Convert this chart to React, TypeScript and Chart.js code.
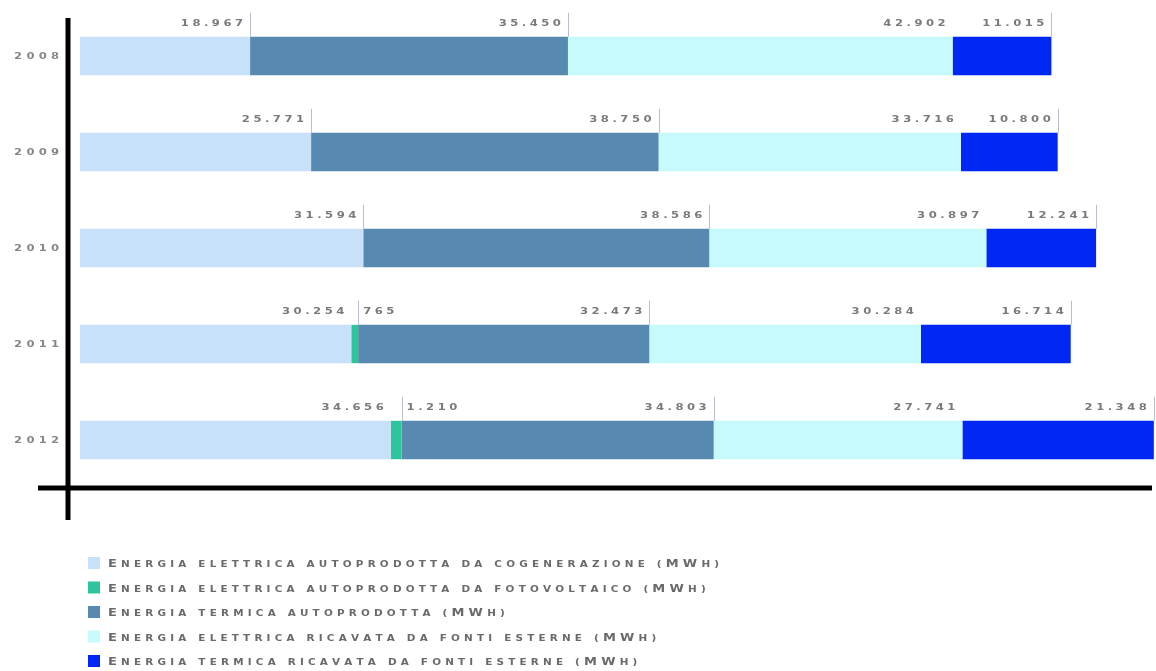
import { useEffect, useRef } from 'react';
import { Chart, registerables } from 'chart.js';

Chart.register(...registerables);

// Years on the category axis
const years = ['2008', '2009', '2010', '2011', '2012'];

// Energy values per year (MWh)
const cogenerazione = [18967, 25771, 31594, 30254, 34656];
const fotovoltaico: (number | null)[] = [null, null, null, 765, 1210];
const termicaAutoprodotta = [35450, 38750, 38586, 32473, 34803];
const elettricaEsterne = [42902, 33716, 30897, 30284, 27741];
const termicaEsterne = [11015, 10800, 12241, 16714, 21348];

const seriesLabels = [
  'Energia elettrica autoprodotta da cogenerazione (MWh)',
  'Energia elettrica autoprodotta da fotovoltaico (MWh)',
  'Energia termica autoprodotta (MWh)',
  'Energia elettrica ricavata da fonti esterne (MWh)',
  'Energia termica ricavata da fonti esterne (MWh)',
];

const seriesColors = ['#c6e1f8', '#2ec59c', '#5889b0', '#c7fbfb', '#0027f4'];

const X_MAX = 120000;

const FONT_FAMILY = '"DejaVu Sans", sans-serif';

function formatIt(n: number): string {
  return String(n).replace(/\B(?=(\d{3})+(?!\d))/g, '.');
}

// Draws text one glyph at a time, stretched horizontally and with extra tracking
function spacedWidth(ctx: CanvasRenderingContext2D, text: string, gap: number, sx: number) {
  let w = 0;
  for (const ch of text) w += ctx.measureText(ch).width * sx;
  return w + gap * Math.max(0, text.length - 1);
}

function drawSpaced(
  ctx: CanvasRenderingContext2D,
  text: string,
  x: number,
  y: number,
  gap: number,
  sx: number,
  align: 'left' | 'right',
) {
  const w = spacedWidth(ctx, text, gap, sx);
  let cx = align === 'right' ? x - w : x;
  ctx.textAlign = 'left';
  for (const ch of text) {
    const cw = ctx.measureText(ch).width * sx;
    ctx.save();
    ctx.translate(cx, y);
    ctx.scale(sx, 1);
    ctx.fillText(ch, 0, 0);
    ctx.restore();
    cx += cw + gap;
  }
}

// Small-caps rendering: capitals at full size, lower-case letters as smaller capitals
function drawSmallCaps(ctx: CanvasRenderingContext2D, text: string, x: number, y: number) {
  const big = `bold 10px ${FONT_FAMILY}`;
  const small = `bold 8px ${FONT_FAMILY}`;
  const gap = 4.2;
  const sx = 1.3;
  let cx = x;
  ctx.textAlign = 'left';
  ctx.textBaseline = 'alphabetic';
  for (const ch of text) {
    const isCap = ch !== ch.toLowerCase();
    ctx.font = isCap ? big : small;
    const glyph = ch.toUpperCase();
    const cw = ctx.measureText(glyph).width * sx;
    ctx.save();
    ctx.translate(cx, y);
    ctx.scale(sx, 1);
    ctx.fillText(glyph, 0, 0);
    ctx.restore();
    cx += cw + gap;
  }
}

const annotationsPlugin = {
  id: 'energyAnnotations',
  afterDraw(chart: any) {
    const ctx: CanvasRenderingContext2D = chart.ctx;
    const area = chart.chartArea;
    const yScale = chart.scales.y;
    const datasets = chart.data.datasets;

    ctx.save();

    // Value labels and marker ticks above each segment
    ctx.font = `bold 8px ${FONT_FAMILY}`;
    ctx.textBaseline = 'middle';
    for (let i = 0; i < years.length; i++) {
      for (let d = 0; d < datasets.length; d++) {
        const value = datasets[d].data[i];
        if (value == null) continue;
        const el = chart.getDatasetMeta(d).data[i];
        const xe = el.x;
        const top = el.y - el.height / 2;
        const tiny = value / X_MAX < 0.02;

        // is the next visible segment a tiny one?
        let nextTiny = false;
        for (let n = d + 1; n < datasets.length; n++) {
          const nv = datasets[n].data[i];
          if (nv == null) continue;
          nextTiny = nv / X_MAX < 0.02;
          break;
        }

        const showTick = datasets[d].showTick !== false && !nextTiny;
        if (showTick || tiny) {
          ctx.strokeStyle = '#b9c0cc';
          ctx.lineWidth = 1;
          ctx.beginPath();
          ctx.moveTo(Math.round(xe) + 0.5, top - 24);
          ctx.lineTo(Math.round(xe) + 0.5, top);
          ctx.stroke();
        }

        ctx.fillStyle = '#7a7a7a';
        if (tiny) {
          drawSpaced(ctx, formatIt(value), xe + 5, top - 13, 3.5, 1.45, 'left');
        } else {
          drawSpaced(ctx, formatIt(value), xe - 7, top - 13, 3.5, 1.45, 'right');
        }
      }
    }

    // Year labels on the category axis
    ctx.fillStyle = '#888888';
    ctx.font = `bold 8px ${FONT_FAMILY}`;
    ctx.textBaseline = 'middle';
    years.forEach((yr, i) => {
      const py = yScale.getPixelForTick(i);
      drawSpaced(ctx, yr, area.left - 21, py + 1, 4.2, 1.45, 'right');
    });

    // Heavy axis lines
    ctx.strokeStyle = '#000000';
    ctx.lineWidth = 5;
    ctx.lineCap = 'butt';
    ctx.beginPath();
    ctx.moveTo(area.left - 12, area.top + 10);
    ctx.lineTo(area.left - 12, area.bottom + 32);
    ctx.stroke();
    ctx.beginPath();
    ctx.moveTo(area.left - 42, area.bottom);
    ctx.lineTo(area.right - 4, area.bottom);
    ctx.stroke();

    // Legend below the plot
    const legendTop = area.bottom + 75;
    const rowStep = 24.5;
    datasets.forEach((ds: any, k: number) => {
      const cy = legendTop + k * rowStep;
      ctx.fillStyle = ds.backgroundColor;
      ctx.fillRect(area.left + 8, cy - 6, 12, 12);
      ctx.fillStyle = '#6a6a6a';
      drawSmallCaps(ctx, ds.label, area.left + 28, cy + 4);
    });

    ctx.restore();
  },
};

export default function App() {
  const canvasRef = useRef<HTMLCanvasElement | null>(null);

  useEffect(() => {
    const canvas = canvasRef.current;
    if (!canvas) return;

    const seriesData = [cogenerazione, fotovoltaico, termicaAutoprodotta, elettricaEsterne, termicaEsterne];

    const chart = new Chart(canvas, {
      type: 'bar',
      data: {
        labels: years,
        datasets: seriesData.map((data, k) => ({
          label: seriesLabels[k],
          data: data as any,
          backgroundColor: seriesColors[k],
          borderWidth: 0,
          barPercentage: 0.4,
          categoryPercentage: 1,
          showTick: k !== 3,
        })) as any,
      },
      options: {
        indexAxis: 'y',
        responsive: false,
        animation: false,
        devicePixelRatio: 1,
        layout: { padding: { top: 8, bottom: 183, left: 0, right: 0 } },
        scales: {
          x: { stacked: true, min: 0, max: X_MAX, display: false },
          y: {
            stacked: true,
            display: true,
            grid: { display: false, drawTicks: false },
            border: { display: false },
            ticks: { display: false },
            afterFit: (scale: any) => {
              scale.width = 80;
            },
          },
        },
        plugins: {
          legend: { display: false },
          tooltip: { enabled: false },
        },
      },
      plugins: [annotationsPlugin],
    });

    return () => chart.destroy();
  }, []);

  return (
    <div style={{ position: 'absolute', left: 0, top: 0, width: 1156, height: 671, background: '#ffffff' }}>
      <canvas ref={canvasRef} width={1156} height={671} style={{ display: 'block' }} />
    </div>
  );
}
